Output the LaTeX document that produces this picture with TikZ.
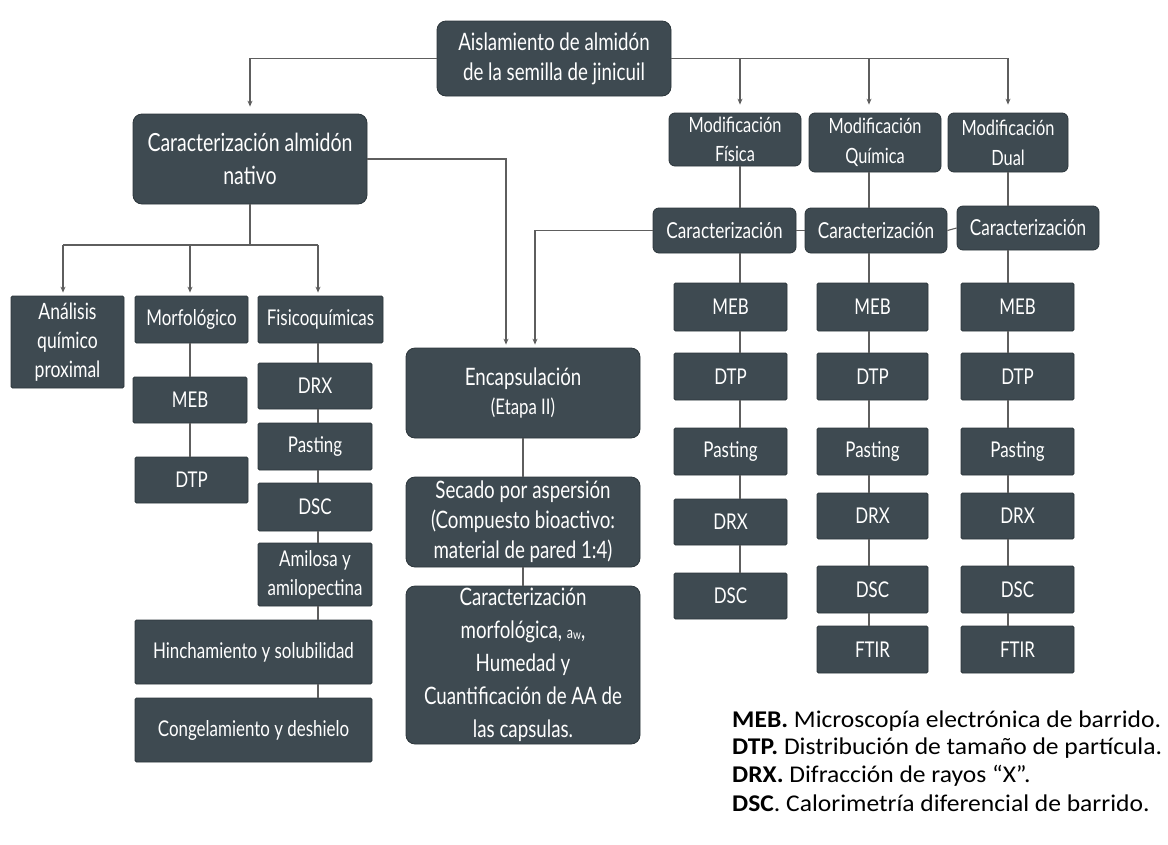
\documentclass[tikz,border=0pt]{standalone}
\usepackage{fontspec}
\usetikzlibrary{arrows.meta}
\setmainfont[FakeStretch=0.78]{Lato}
\newfontfamily\legfont[FakeStretch=1.065]{Carlito}
\definecolor{boxc}{HTML}{3E4A51}
\definecolor{boxedge}{HTML}{2C363B}
\definecolor{linec}{HTML}{5E5E5E}
\newcommand{\fsz}[2]{\fontsize{#1}{#2}\selectfont}
\tikzset{
  box/.style={fill=boxc, draw=boxedge, line width=0.8pt, text=white, align=center, inner sep=0pt, rounded corners=1.5pt},
  rbox/.style={box, rounded corners=9pt},
  mbox/.style={box, rounded corners=6pt},
  sm/.style={font=\fsz{21.7}{26}},
  conn/.style={draw=linec, line width=1.1pt},
  arr/.style={conn, -{Stealth[length=6pt,width=5pt]}, shorten >=3pt},
  leg/.style={anchor=west, inner sep=0pt, font=\legfont\fsz{24}{27}}
}
\begin{document}
\begin{tikzpicture}[x=1pt,y=-1pt]
\useasboundingbox (0,0) rectangle (1168,844);
% column coordinates
\coordinate (k0) at (318,0);
\coordinate (kM) at (190,0);
\coordinate (kA) at (63,0);
\coordinate (k1) at (740,0);
\coordinate (k2) at (869,0);
\coordinate (k3) at (1008,0);
\coordinate (k4) at (506,0);
\coordinate (k5) at (535,0);
\coordinate (kE) at (523,0);
\coordinate (bus) at (0,245);
% top
\node[rbox, minimum width=234pt, minimum height=75pt, font=\fsz{24}{30}] (ais) at (554,58.5) {Aislamiento de almidón\\de la semilla de jinicuil};
\node[rbox, minimum width=234pt, minimum height=90pt, font=\fsz{25}{33}] (nat) at (250,159) {Caracterización almidón\\nativo};
% modifications
\node[mbox, minimum width=132pt, minimum height=53pt, font=\fsz{21}{29}] (mf) at (735,139.5) {Modificación\\Física};
\node[mbox, minimum width=132pt, minimum height=59pt, font=\fsz{21}{30}] (mq) at (875,142.5) {Modificación\\Química};
\node[mbox, minimum width=120pt, minimum height=59pt, font=\fsz{21}{30}] (md) at (1008,142.5) {Modificación\\Dual};
\node[mbox, minimum width=143pt, minimum height=45pt, font=\fsz{22}{26}] (cf) at (724.5,230.5) {Caracterización};
\node[mbox, minimum width=142pt, minimum height=45pt, font=\fsz{22}{26}] (cq) at (876,230.5) {Caracterización};
\node[mbox, minimum width=142pt, minimum height=44pt, font=\fsz{22}{26}] (cd) at (1028,228) {Caracterización};
% native branch
\node[box, minimum width=113pt, minimum height=92pt, font=\fsz{22.5}{29}] (ana) at (67.5,342) {Análisis\\químico\\proximal};
\node[box, sm, minimum width=113pt, minimum height=47pt] (mor) at (191.5,319.5) {Morfológico};
\node[box, sm, minimum width=125pt, minimum height=47pt] (fis) at (320.5,319.5) {Fisicoquímicas};
\node[box, sm, minimum width=114pt, minimum height=46pt] (meb0) at (190,400) {MEB};
\node[box, sm, minimum width=113pt, minimum height=46pt] (dtp0) at (191.5,480) {DTP};
\node[box, sm, minimum width=114pt, minimum height=46pt] (drx0) at (315,386) {DRX};
\node[box, sm, minimum width=114pt, minimum height=47pt] (pas0) at (315,446.5) {Pasting};
\node[box, sm, minimum width=114pt, minimum height=48pt] (dsc0) at (315,507) {DSC};
\node[box, minimum width=114pt, minimum height=63pt, font=\fsz{21.7}{29}] (ami) at (315,574.5) {Amilosa y\\amilopectina};
\node[box, sm, minimum width=237pt, minimum height=64pt] (hin) at (253.5,652) {Hinchamiento y solubilidad};
\node[box, sm, minimum width=237pt, minimum height=64pt] (con) at (253.5,730) {Congelamiento y deshielo};
% encapsulation
\node[rbox, minimum width=234pt, minimum height=90pt] (enc) at (523,393) {\fsz{24}{33}Encapsulación\\[8pt]\fsz{21.5}{26}(Etapa II)};
\node[rbox, minimum width=234pt, minimum height=90pt, font=\fsz{24}{30}] (sec) at (523,522) {Secado por aspersión\\(Compuesto bioactivo:\\material de pared 1:4)};
\node[rbox, minimum width=234pt, minimum height=158pt, font=\fsz{24}{33}] (cmo) at (523,665) {Caracterización\\morfológica, {\fsz{16}{33}a\raisebox{-1pt}{\fsz{13}{33}w}},\\Humedad y\\Cuantificación de AA de\\las capsulas.};
% column 1 (Física)
\node[box, sm, minimum width=113pt, minimum height=48pt] (meb1) at (730.5,307) {MEB};
\node[box, sm, minimum width=113pt, minimum height=47pt] (dtp1) at (730.5,376.5) {DTP};
\node[box, sm, minimum width=113pt, minimum height=47pt] (pas1) at (730.5,451.5) {Pasting};
\node[box, sm, minimum width=113pt, minimum height=46pt] (drx1) at (730.5,522) {DRX};
\node[box, sm, minimum width=113pt, minimum height=46pt] (dsc1) at (730.5,596) {DSC};
% column 2 (Química)
\node[box, sm, minimum width=111pt, minimum height=48pt] (meb2) at (872.5,307) {MEB};
\node[box, sm, minimum width=111pt, minimum height=47pt] (dtp2) at (872.5,376.5) {DTP};
\node[box, sm, minimum width=111pt, minimum height=47pt] (pas2) at (872.5,451.5) {Pasting};
\node[box, sm, minimum width=111pt, minimum height=46pt] (drx2) at (872.5,516) {DRX};
\node[box, sm, minimum width=111pt, minimum height=47pt] (dsc2) at (872.5,589.5) {DSC};
\node[box, sm, minimum width=111pt, minimum height=47pt] (ftir2) at (872.5,649.5) {FTIR};
% column 3 (Dual)
\node[box, sm, minimum width=113pt, minimum height=48pt] (meb3) at (1017.5,307) {MEB};
\node[box, sm, minimum width=113pt, minimum height=47pt] (dtp3) at (1017.5,376.5) {DTP};
\node[box, sm, minimum width=113pt, minimum height=47pt] (pas3) at (1017.5,451.5) {Pasting};
\node[box, sm, minimum width=113pt, minimum height=46pt] (drx3) at (1017.5,516) {DRX};
\node[box, sm, minimum width=113pt, minimum height=47pt] (dsc3) at (1017.5,589.5) {DSC};
\node[box, sm, minimum width=113pt, minimum height=47pt] (ftir3) at (1017.5,649.5) {FTIR};
% legend
\node[leg] (leg1) at (732,721) {\textbf{MEB.} Microscopía electrónica de barrido.};
\node[leg] (leg2) at (732,748) {\textbf{DTP.} Distribución de tamaño de partícula.};
\node[leg] (leg3) at (732,776) {\textbf{DRX.} Difracción de rayos “X”.};
\node[leg] (leg4) at (732,803) {\textbf{DSC}. Calorimetría diferencial de barrido.};
% connectors: top
\draw[arr, shorten >=7pt] (ais.west) -| (nat.north);
\draw[arr, shorten >=8pt] (ais.east) -| (md.north);
\draw[arr, shorten >=8pt] (ais.east -| k1) -- (mf.north -| k1);
\draw[arr, shorten >=8pt] (ais.east -| k2) -- (mq.north -| k2);
% native branch bus
\draw[conn] (nat.south) -- (nat.south |- bus);
\draw[conn] (kA |- bus) -- (k0 |- bus);
\draw[arr] (kA |- bus) -- (ana.north -| kA);
\draw[arr] (kM |- bus) -- (mor.north -| kM);
\draw[arr] (k0 |- bus) -- (fis.north -| k0);
% to encapsulation
\draw[arr] (nat.east) -- (nat.east -| k4) -- (enc.north -| k4);
\draw[arr] (cf.west) -- (cf.west -| k5) -- (enc.north -| k5);
% morphology chain
\draw[conn] (mor.south -| kM) -- (meb0.north -| kM);
\draw[conn] (meb0.south -| kM) -- (dtp0.north -| kM);
% physicochemical chain
\draw[conn] (fis.south -| k0) -- (drx0.north -| k0);
\draw[conn] (drx0.south -| k0) -- (pas0.north -| k0);
\draw[conn] (pas0.south -| k0) -- (dsc0.north -| k0);
\draw[conn] (dsc0.south -| k0) -- (ami.north -| k0);
\draw[conn] (ami.south -| k0) -- (hin.north -| k0);
\draw[conn] (hin.south -| k0) -- (con.north -| k0);
% encapsulation chain
\draw[conn] (enc.south -| kE) -- (sec.north -| kE);
\draw[conn] (sec.south -| kE) -- (cmo.north -| kE);
% modifications
\draw[conn] (mf.south -| k1) -- (cf.north -| k1);
\draw[conn] (mq.south -| k2) -- (cq.north -| k2);
\draw[conn] (md.south -| k3) -- (cd.north -| k3);
\draw[conn] (cf.east) -- (cq.west);
\draw[conn] (cq.east) -- (cd.west);
% column chains
\draw[conn] (cf.south -| k1) -- (meb1.north -| k1);
\draw[conn] (meb1.south -| k1) -- (dtp1.north -| k1);
\draw[conn] (dtp1.south -| k1) -- (pas1.north -| k1);
\draw[conn] (pas1.south -| k1) -- (drx1.north -| k1);
\draw[conn] (drx1.south -| k1) -- (dsc1.north -| k1);
\draw[conn] (cq.south -| k2) -- (meb2.north -| k2);
\draw[conn] (meb2.south -| k2) -- (dtp2.north -| k2);
\draw[conn] (dtp2.south -| k2) -- (pas2.north -| k2);
\draw[conn] (pas2.south -| k2) -- (drx2.north -| k2);
\draw[conn] (drx2.south -| k2) -- (dsc2.north -| k2);
\draw[conn] (dsc2.south -| k2) -- (ftir2.north -| k2);
\draw[conn] (cd.south -| k3) -- (meb3.north -| k3);
\draw[conn] (meb3.south -| k3) -- (dtp3.north -| k3);
\draw[conn] (dtp3.south -| k3) -- (pas3.north -| k3);
\draw[conn] (pas3.south -| k3) -- (drx3.north -| k3);
\draw[conn] (drx3.south -| k3) -- (dsc3.north -| k3);
\draw[conn] (dsc3.south -| k3) -- (ftir3.north -| k3);
\end{tikzpicture}
\end{document}
